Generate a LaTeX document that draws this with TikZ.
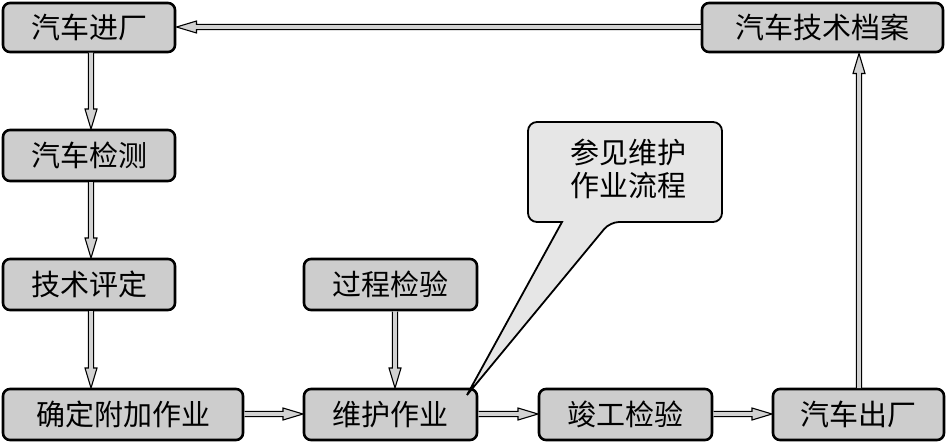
\documentclass[tikz,border=0pt]{standalone}
\usepackage{fontspec}
\newfontfamily\cjk{Noto Sans CJK SC}
\usetikzlibrary{calc}
\definecolor{boxgray}{RGB}{205,205,205}
\definecolor{callgray}{RGB}{230,230,230}
\definecolor{arrgray}{RGB}{210,210,210}
\tikzset{
  box/.style={draw=black, line width=2.6pt, fill=boxgray, rounded corners=7pt},
  lbl/.style={font=\cjk\fontsize{29}{34}\selectfont, inner sep=0pt},
  arr/.style={draw=black, fill=arrgray, line width=1.1pt, line join=miter},
}
\newcommand\hollowarrow[2]{%
  \coordinate (hA) at (#1);
  \coordinate (hB) at (#2);
  \coordinate (hC) at ($(hB)!20pt!(hA)$);
  \filldraw[arr] ($(hA)!2.6pt!90:(hB)$) -- ($(hC)!2.6pt!90:(hB)$) -- ($(hC)!6pt!90:(hB)$) -- (hB)
     -- ($(hC)!6pt!-90:(hB)$) -- ($(hC)!2.6pt!-90:(hB)$) -- ($(hA)!2.6pt!-90:(hB)$);
}
\begin{document}
\begin{tikzpicture}[x=1pt,y=-1pt]
\useasboundingbox (0,0) rectangle (947,442);
% boxes
\path[box] (3,3) rectangle (175,52);
\node[lbl] (n1) at (89,27.5) {汽车进厂};
\path[box] (3,130) rectangle (175,181);
\node[lbl] (n2) at (89,155.5) {汽车检测};
\path[box] (3,259) rectangle (175,310);
\node[lbl] (n3) at (89,284.5) {技术评定};
\path[box] (3,389) rectangle (243,440);
\node[lbl] (n4) at (123,414.5) {确定附加作业};
\path[box] (304,259) rectangle (477,310);
\node[lbl] (n5) at (390.5,284.5) {过程检验};
\path[box] (304,389) rectangle (477,440);
\node[lbl] (n6) at (390.5,414.5) {维护作业};
\path[box] (539,389) rectangle (712,440);
\node[lbl] (n7) at (625.5,414.5) {竣工检验};
\path[box] (773,389) rectangle (944,440);
\node[lbl] (n8) at (858.5,414.5) {汽车出厂};
\path[box] (702,3) rectangle (943,52);
\node[lbl] (n9) at (822.5,27.5) {汽车技术档案};
% callout
\filldraw[draw=black, line width=1.8pt, fill=callgray, line join=miter]
  (467,395) -- (562,222)
  {[rounded corners=9pt] -- (528,222) -- (528,122) -- (722,122) -- (722,222) -- (610,222)}
  -- cycle;
\node[lbl] (c) at (628,173) {\begin{tabular}{@{}c@{}}参见维护\\[-1pt]作业流程\end{tabular}};
% arrows
\hollowarrow{91,52.5}{91,129}
\hollowarrow{91,182}{91,258}
\hollowarrow{91,311}{91,388}
\hollowarrow{244.5,414}{303,414}
\hollowarrow{395,311.5}{395,388}
\hollowarrow{478.5,414}{538,414}
\hollowarrow{713.5,414}{772,414}
\hollowarrow{859,388}{859,53.5}
\hollowarrow{701,27}{176.5,27}
\end{tikzpicture}
\end{document}
